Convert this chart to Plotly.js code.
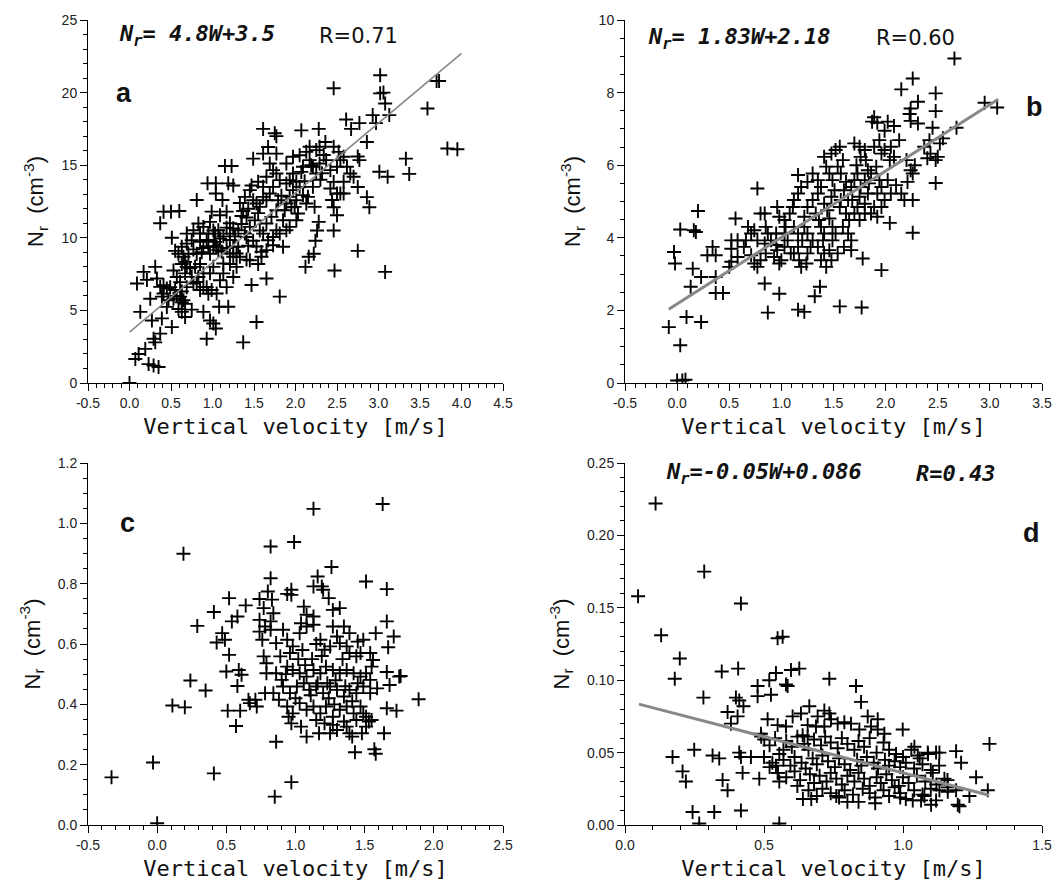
<!DOCTYPE html>
<html>
<head>
<meta charset="utf-8">
<script src="https://cdn.plot.ly/plotly-3.0.1.min.js"></script>
<style>html,body{margin:0;padding:0;background:#fff;}#chart{width:1062px;height:881px;}</style>
</head>
<body>
<div id="chart"></div>
<script>
// ---------- Panel a ----------
const aW = [3.02,2.46,3.02,3.06,3.08,3.70,3.73,3.59,3.13,2.93,
2.97,2.77,2.61,2.67,2.86,3.83,3.95,3.33,3.37,3.01,
3.11,2.75,2.77,2.70,2.75,2.86,2.89,2.75,2.47,3.08,
2.12,2.16,2.22,2.24,2.26,2.28,2.46,2.50,2.44,2.46,
2.54,2.42,2.46,2.30,2.32,2.36,2.28,2.07,1.61,1.75,
1.77,1.67,1.77,1.49,1.61,1.15,1.23,1.19,1.25,0.94,
1.04,1.04,1.12,0.81,0.41,0.50,0.60,0.37,0.51,0.31,
0.33,0.21,0.17,0.09,0.25,0.39,0.13,0.27,0.39,0.37,
0.29,0.31,0.19,0.11,0.07,0.23,0.29,0.35,0.51,0.59,
0.63,0.67,0.75,0.89,0.97,1.01,1.04,0.93,1.08,1.19,
1.37,1.53,1.47,1.65,1.81,0.55,0.59,0.65,0.63,0.69,
0.71,0.53,0.57,0.61,0.67,0.49,0.55,0.63,0.69,0.61,
0.65,0.67,0.63,0.77,0.81,0.85,0.89,0.83,0.77,0.85,
0.93,0.95,0.99,0.97,1.01,0.85,0.97,1.01,0.93,1.05,
1.11,0.89,0.95,1.01,1.07,0.97,1.09,1.17,1.21,1.25,
1.27,1.21,1.17,1.25,1.21,1.29,1.13,1.17,1.25,1.33,
1.37,1.41,1.35,1.45,1.41,1.49,1.43,1.53,1.41,1.45,
1.59,1.55,1.39,1.45,1.49,1.53,1.57,1.61,1.65,1.69,
1.61,1.55,1.65,1.73,1.69,1.77,1.81,1.73,1.79,1.77,
1.71,1.65,1.61,1.67,1.73,1.77,1.81,1.85,1.87,1.89,
1.93,1.97,1.89,1.93,2.01,2.05,2.09,2.01,1.99,2.03,
2.01,1.93,1.89,1.85,1.73,1.65,1.59,1.89,1.97,2.05,
2.13,2.17,2.21,2.25,2.29,2.17,2.09,2.25,2.29,2.37,
2.42,2.50,2.54,2.58,2.52,2.46,2.62,2.66,2.58,2.50,
2.58,2.21,2.15,2.23,2.13,2.07,1.97,0.69,0.77,0.83,
0.89,0.95,1.03,1.07,1.09,1.03,0.85,0.75,0.69,0.63,
0.67,0.79,0.75,0.81,0.89,1.05,1.09,1.13,1.21,1.29,
1.33,1.31,1.25,1.21,1.31,1.39,0.45,0.41,0.47,0.45,
0.53,0.41,0.37,0.00,1.13,1.17,0.99,1.43,1.51,1.57,
1.35,1.47,1.83,1.95,2.11,2.19,2.34,1.55,0.87,0.73,0.57];
const aN = [21.2,20.3,19.95,20.0,19.25,20.8,20.8,18.9,18.45,18.45,
17.9,17.9,18.15,17.5,16.6,16.15,16.1,15.45,14.4,14.55,
14.2,15.6,15.35,14.2,13.5,12.8,12.1,9.1,7.75,7.65,
8.0,8.7,8.9,9.8,10.5,11.1,10.5,11.55,12.6,12.1,
13.05,13.4,13.85,14.0,14.45,16.6,17.5,17.4,17.5,17.2,
17.0,16.25,15.8,15.45,15.8,14.95,14.95,13.75,13.6,13.75,
13.75,13.05,12.6,12.6,11.8,11.8,11.85,11.0,10.0,8.0,
7.2,7.1,7.65,6.85,5.8,5.95,4.9,4.3,4.45,3.4,
3.05,2.8,2.35,2.0,1.65,1.3,1.2,1.1,3.85,5.1,
4.9,4.55,5.05,4.9,4.3,4.1,3.75,3.05,5.25,5.25,
2.8,4.2,6.75,7.2,5.95,9.1,8.9,8.7,8.2,8.0,
8.9,7.75,7.3,6.95,7.55,6.6,6.4,6.3,6.6,5.95,
5.7,5.45,5.55,9.2,8.9,8.2,7.55,7.3,6.85,6.4,
6.6,6.15,6.4,7.55,8.0,10.3,11.1,10.5,9.85,9.4,
9.05,9.3,9.4,9.4,9.15,8.9,11.55,11.8,11.0,10.65,
10.1,9.85,9.3,8.7,8.2,8.0,7.55,6.6,7.3,12.4,
11.85,11.4,10.95,10.75,10.05,9.8,9.45,9.4,8.5,8.45,
8.7,8.2,12.82,13.28,12.59,12.36,12.13,12.82,12.59,13.05,
13.51,13.86,14.2,14.66,15.12,14.43,13.97,13.51,12.59,11.9,
11.44,10.98,10.29,9.83,10.06,10.52,10.29,11.21,11.9,12.36,
12.82,13.28,13.74,13.97,13.86,13.51,12.94,12.59,12.13,11.67,
11.21,10.75,10.52,9.38,9.49,9.15,9.03,15.12,15.58,15.69,
15.92,15.35,14.89,16.04,16.27,16.27,14.89,14.43,15.12,15.35,
14.66,14.89,15.35,15.58,15.92,16.27,14.89,14.43,13.86,13.05,
13.05,13.51,12.82,12.13,12.36,14.54,14.43,10.29,10.52,10.98,
10.75,10.29,10.29,10.52,9.95,9.72,9.72,9.83,9.6,9.38,
8.34,8.0,7.31,6.96,6.62,6.16,7.08,8.23,8.92,8.92,
8.69,9.38,9.38,10.29,10.52,10.29,6.5,6.16,5.7,5.24,
5.81,6.73,6.62,0.0,10.1,10.7,11.8,12.0,11.2,10.5,
11.5,13.6,12.9,12.1,13.9,15.0,15.7,11.7,9.0,7.9,6.0];
const aFit = {slope: 4.8, intercept: 3.5, wStart: 0.0, wEnd: 4.0};

// ---------- Panel b ----------
const bW = [2.66,2.26,2.15,2.48,2.48,2.31,2.24,2.95,3.07,2.68,
2.45,2.42,2.31,2.24,2.23,1.89,1.92,2.02,2.08,1.99,
1.87,2.13,2.05,1.99,1.94,1.89,1.96,2.04,2.08,2.37,
2.43,2.40,2.52,2.50,2.48,2.55,2.48,2.26,2.26,2.26,
2.18,2.15,2.21,2.20,2.28,2.24,2.04,1.96,1.99,2.05,
2.10,2.02,1.96,1.92,1.89,1.86,1.92,1.96,1.78,1.56,
1.77,1.22,1.16,0.87,0.98,1.32,1.37,-0.08,0.03,0.00,
0.05,0.08,0.09,0.23,-0.03,-0.02,0.03,0.16,0.18,0.20,
0.15,0.13,0.23,0.29,0.34,0.37,0.37,0.37,0.44,0.50,
0.52,0.52,0.56,0.64,0.66,0.74,0.77,0.71,0.74,0.77,
0.80,0.84,0.85,0.77,0.84,0.87,0.80,0.84,0.85,0.90,
0.95,0.96,0.93,1.00,0.98,0.96,0.98,0.95,1.03,1.03,
1.06,1.03,1.09,1.04,1.08,1.11,1.12,1.16,1.19,1.16,
1.12,1.16,1.20,1.16,1.12,1.17,1.19,1.24,1.25,1.28,
1.30,1.25,1.22,1.22,1.25,1.30,1.35,1.38,1.35,1.30,
1.25,1.33,1.36,1.38,1.41,1.40,1.35,1.41,1.38,1.43,
1.48,1.46,1.49,1.52,1.49,1.46,1.44,1.41,1.48,1.51,
1.49,1.46,1.43,1.41,1.48,1.52,1.56,1.59,1.54,1.57,
1.62,1.60,1.57,1.56,1.62,1.65,1.59,1.64,1.67,1.60,
1.54,1.67,1.67,1.70,1.73,1.72,1.76,1.80,1.75,1.70,
1.81,1.83,1.80,1.76,1.75,1.80,1.83,1.84,1.73,1.70,
1.75,1.80,1.68,1.64,1.91,1.86,1.94,0.71,0.68,0.58,
0.52,0.58];
const bN = [8.94,8.39,8.09,7.98,7.49,7.75,7.56,7.72,7.59,7.03,
7.03,6.69,7.15,7.22,7.41,7.32,7.17,7.20,7.08,6.95,
7.20,6.69,6.51,6.42,6.69,6.51,6.32,6.14,6.23,6.51,
6.32,6.19,6.60,6.23,6.14,6.74,5.51,4.14,5.77,5.04,
5.04,5.22,5.54,6.14,6.00,5.86,4.41,4.85,5.04,5.22,
5.45,5.59,5.40,5.22,4.85,4.67,4.58,3.11,3.43,2.11,
2.08,1.96,2.02,1.94,2.46,2.39,2.65,1.54,1.04,0.07,
0.07,0.09,1.82,1.68,3.61,3.29,4.23,4.21,4.16,4.74,
3.15,2.65,2.92,3.52,3.75,3.52,2.92,2.48,2.48,3.20,
3.93,3.70,4.53,3.75,3.93,4.21,5.36,3.52,3.29,3.20,
4.67,4.67,4.30,3.93,3.84,4.12,3.38,2.74,3.57,3.93,
3.80,3.66,3.47,3.38,3.29,4.85,4.58,4.12,4.49,4.12,
3.93,3.75,3.57,4.30,4.67,4.85,5.04,5.22,5.40,5.73,
4.30,4.12,3.93,3.75,3.57,3.38,3.20,3.29,3.57,3.75,
3.93,4.12,4.30,4.58,4.85,5.04,5.22,5.40,5.59,5.77,
5.54,4.67,4.49,4.30,4.12,3.93,3.75,3.57,3.38,3.20,
3.38,3.66,3.93,4.12,4.30,4.53,4.76,4.94,5.13,5.31,
5.59,5.77,5.96,6.23,6.32,6.42,6.51,6.14,5.96,5.77,
5.54,5.31,5.04,4.85,4.67,4.49,4.30,4.12,3.93,3.75,
3.57,3.66,5.40,5.59,5.77,6.00,6.23,6.42,6.51,6.60,
6.14,5.86,5.59,5.40,5.13,4.94,5.22,5.50,4.85,4.67,
4.49,4.67,5.04,5.04,5.96,5.77,5.59,4.12,4.30,3.93,
3.34,3.47];
const bFit = {slope: 1.83, intercept: 2.18, wStart: -0.08, wEnd: 3.08};

// ---------- Panel c ----------
const cW = [-0.33,-0.03,0.00,0.19,0.29,0.11,0.20,0.24,0.35,0.41,
0.41,0.52,0.64,0.58,0.54,0.47,0.43,0.49,0.52,0.50,
0.59,0.61,0.58,0.51,0.60,0.57,0.66,0.71,0.72,0.67,
0.74,0.77,0.74,0.78,0.74,0.76,0.82,0.82,0.80,0.83,
0.84,0.82,0.85,0.97,0.99,1.13,1.63,1.26,1.16,1.19,
1.20,1.24,1.13,0.97,0.97,0.94,1.51,1.66,1.66,1.67,
1.71,1.58,1.66,1.68,1.75,1.76,1.89,1.73,1.66,1.64,
1.57,1.58,1.43,0.86,1.08,1.04,0.97,0.95,1.17,1.25,
1.30,1.37,1.39,1.41,1.48,1.51,1.53,0.91,0.94,0.96,
0.98,1.03,1.08,1.13,1.18,1.21,1.25,1.27,1.30,1.32,
1.37,1.39,1.44,1.47,1.49,1.54,1.56,1.55,0.94,0.98,
1.03,1.08,1.13,1.18,1.22,1.27,1.32,1.37,1.42,1.47,
1.51,1.54,0.91,0.96,1.01,1.06,1.10,1.15,1.20,1.25,
1.30,1.35,1.39,1.44,1.49,1.54,1.59,0.94,0.98,1.03,
1.08,1.13,1.18,1.22,1.27,1.32,1.37,1.42,1.47,1.51,
1.49,1.15,1.21,1.27,1.35,1.44,1.55,0.86,0.89,0.86,
0.90,0.84,0.88,0.79,0.79,0.78,0.77,0.82,1.27,1.32,
1.35,1.39,1.45,1.06,1.08,1.13,1.04,1.12,1.16,1.05,
1.24,1.00,1.29,1.34,1.41,1.11,0.93,1.19,1.07,1.23,
1.45,1.02,1.15,1.28,1.36];
const cN = [0.158,0.207,0.006,0.899,0.660,0.396,0.390,0.479,0.446,0.171,
0.706,0.752,0.728,0.691,0.675,0.636,0.605,0.614,0.564,0.509,
0.514,0.498,0.461,0.379,0.379,0.328,0.415,0.415,0.393,0.404,
0.749,0.719,0.680,0.658,0.641,0.614,0.923,0.818,0.774,0.747,
0.702,0.675,0.094,0.142,0.938,1.048,1.064,0.855,0.824,0.791,
0.780,0.752,0.791,0.780,0.763,0.766,0.807,0.782,0.675,0.589,
0.625,0.636,0.507,0.464,0.492,0.494,0.417,0.379,0.387,0.304,
0.251,0.236,0.241,0.276,0.293,0.326,0.337,0.359,0.304,0.304,
0.315,0.326,0.304,0.293,0.304,0.326,0.343,0.647,0.614,0.570,
0.592,0.636,0.658,0.664,0.614,0.581,0.592,0.658,0.625,0.603,
0.592,0.570,0.559,0.570,0.614,0.570,0.547,0.525,0.525,0.514,
0.503,0.492,0.514,0.503,0.525,0.514,0.503,0.514,0.503,0.492,
0.503,0.481,0.459,0.437,0.459,0.470,0.448,0.459,0.437,0.459,
0.448,0.426,0.448,0.437,0.459,0.437,0.453,0.393,0.370,0.404,
0.382,0.393,0.370,0.393,0.359,0.382,0.393,0.370,0.393,0.359,
0.370,0.348,0.337,0.332,0.343,0.348,0.348,0.603,0.559,0.503,
0.481,0.437,0.415,0.536,0.503,0.437,0.559,0.647,0.713,0.719,
0.658,0.636,0.608,0.724,0.697,0.691,0.669,0.55,0.47,0.58,
0.42,0.42,0.48,0.55,0.41,0.43,0.50,0.56,0.53,0.47,
0.47,0.55,0.60,0.40,0.46];

// ---------- Panel d ----------
const dW = [0.047,0.11,0.13,0.197,0.179,0.285,0.282,0.417,0.549,0.567,
0.348,0.407,0.399,0.411,0.426,0.369,0.405,0.381,0.477,0.525,
0.477,0.543,0.579,0.585,0.597,0.627,0.519,0.735,0.831,0.849,
0.171,0.249,0.207,0.219,0.243,0.267,0.321,0.417,0.555,0.315,
0.339,0.351,0.369,0.423,0.411,0.417,0.453,0.483,0.549,0.555,
0.543,0.489,0.501,0.513,0.549,0.579,0.603,0.633,0.663,0.693,
0.687,0.657,0.639,0.657,0.717,0.735,0.741,0.717,0.765,0.789,
0.813,0.843,0.873,0.885,0.909,0.909,0.933,0.999,1.311,1.305,
1.263,1.239,1.191,1.209,1.197,1.203,1.191,1.161,1.131,1.119,
1.101,1.107,1.149,1.161,1.119,1.131,1.089,1.053,1.041,1.065,
1.035,1.077,
0.49,0.52,0.54,0.57,0.58,0.60,0.62,0.645,0.66,0.68,
0.705,0.72,0.74,0.765,0.78,0.80,0.825,0.84,0.86,0.88,
0.905,0.93,0.95,0.975,1.00,1.03,1.06,1.09,
0.50,0.53,0.555,0.57,0.595,0.61,0.635,0.65,0.675,0.69,
0.71,0.73,0.755,0.77,0.79,0.81,0.835,0.85,0.87,0.895,
0.91,0.935,0.95,0.97,0.99,1.01,1.04,1.07,1.10,1.13,
0.52,0.55,0.58,0.61,0.63,0.665,0.68,0.70,0.725,0.74,
0.76,0.78,0.80,0.825,0.84,0.86,0.88,0.905,0.92,0.94,
0.96,0.985,1.00,1.02,1.05,1.08,1.12,1.16,
0.62,0.66,0.69,0.71,0.74,0.77,0.79,0.82,0.84,0.855,
0.88,0.90,0.93,0.95,0.97,0.99,1.01,1.04,1.07,1.10,
0.64,0.67,0.76,0.80,0.90,0.99];
const dN = [0.158,0.222,0.131,0.115,0.101,0.175,0.088,0.153,0.129,0.130,
0.106,0.108,0.088,0.086,0.082,0.078,0.075,0.070,0.096,0.090,
0.089,0.105,0.097,0.096,0.107,0.108,0.100,0.101,0.096,0.085,
0.047,0.052,0.037,0.030,0.009,0.001,0.009,0.010,0.001,0.048,
0.046,0.031,0.024,0.036,0.050,0.047,0.047,0.032,0.036,0.030,
0.041,0.063,0.059,0.073,0.069,0.068,0.075,0.077,0.082,0.075,
0.068,0.069,0.062,0.061,0.079,0.077,0.073,0.068,0.070,0.071,
0.070,0.066,0.075,0.068,0.073,0.066,0.063,0.066,0.056,0.024,
0.033,0.020,0.051,0.043,0.014,0.013,0.024,0.023,0.024,0.017,
0.014,0.036,0.032,0.026,0.050,0.050,0.050,0.048,0.054,0.017,
0.017,0.020,
0.061,0.055,0.060,0.052,0.058,0.054,0.061,0.056,0.052,0.059,
0.055,0.061,0.057,0.053,0.060,0.056,0.052,0.058,0.054,0.060,
0.050,0.057,0.052,0.049,0.047,0.052,0.046,0.049,
0.047,0.043,0.049,0.045,0.041,0.047,0.043,0.039,0.046,0.042,
0.048,0.044,0.040,0.046,0.042,0.038,0.045,0.041,0.047,0.043,
0.039,0.045,0.041,0.044,0.040,0.043,0.039,0.042,0.038,0.041,
0.040,0.036,0.033,0.037,0.031,0.035,0.029,0.034,0.030,0.036,
0.032,0.028,0.034,0.030,0.036,0.032,0.027,0.033,0.029,0.035,
0.031,0.027,0.033,0.029,0.034,0.030,0.028,0.031,
0.027,0.024,0.020,0.025,0.022,0.019,0.024,0.021,0.016,0.025,
0.022,0.019,0.024,0.020,0.026,0.022,0.018,0.024,0.021,0.025,
0.018,0.018,0.020,0.016,0.015,0.019];
const dFit = {slope: -0.05, intercept: 0.086, wStart: 0.05, wEnd: 1.31};

// ---------- Tick labels (hyphen-minus as in the original) ----------
const xTicksA = [-0.5,0,0.5,1,1.5,2,2.5,3,3.5,4,4.5];
const xLabelsA = ['-0.5','0.0','0.5','1.0','1.5','2.0','2.5','3.0','3.5','4.0','4.5'];
const xTicksB = [-0.5,0,0.5,1,1.5,2,2.5,3,3.5];
const xLabelsB = ['-0.5','0.0','0.5','1.0','1.5','2.0','2.5','3.0','3.5'];
const xTicksC = [-0.5,0,0.5,1,1.5,2,2.5];
const xLabelsC = ['-0.5','0.0','0.5','1.0','1.5','2.0','2.5'];

// ---------- Text ----------
const xTitle = 'Vertical velocity [m/s]';
const yTitle = 'N<sub>r</sub>  (cm<sup>-3</sup>)';
const eqTexts = ['N<sub>r</sub>= 4.8W+3.5', 'N<sub>r</sub>= 1.83W+2.18', null, 'N<sub>r</sub>=-0.05W+0.086'];
const rTexts = ['R=0.71', 'R=0.60', null, '<b><i>R=0.43</i></b>'];
const panelLabels = ['a', 'b', 'c', 'd'];

// ---------- Build ----------
const markerStyle = {symbol: 'cross-thin', size: 10, color: '#000', line: {color: '#000', width: 1.9}};
function pts(x, y, xa, ya) {
  return {type: 'scatter', mode: 'markers', x: x, y: y, xaxis: xa, yaxis: ya,
          marker: markerStyle, hoverinfo: 'x+y', showlegend: false};
}
function fit(f, xa, ya, w) {
  const xs = [f.wStart, f.wEnd];
  return {type: 'scatter', mode: 'lines', x: xs, y: xs.map(v => f.slope * v + f.intercept),
          xaxis: xa, yaxis: ya, line: {color: '#888', width: w}, showlegend: false, hoverinfo: 'skip'};
}
const data = [
  pts(aW, aN, 'x', 'y'), fit(aFit, 'x', 'y', 1.6),
  pts(bW, bN, 'x2', 'y2'), fit(bFit, 'x2', 'y2', 3),
  pts(cW, cN, 'x3', 'y3'),
  pts(dW, dN, 'x4', 'y4'), fit(dFit, 'x4', 'y4', 3)
];

const tickFont = {family: 'Liberation Sans, Arial, sans-serif', size: 14, color: '#222'};
function xax(domain, range, dtick, minor, fmt, anchor, tv, tt) {
  const ax = {domain: domain, range: range, dtick: dtick, tick0: 0, tickformat: fmt, anchor: anchor,
    ticks: 'outside', ticklen: 7, tickwidth: 1, tickcolor: '#000',
    minor: {tickmode: 'linear', dtick: minor, tick0: 0, ticks: 'outside', ticklen: 4, tickwidth: 1, tickcolor: '#000', showgrid: false},
    showline: true, linecolor: '#000', linewidth: 1, showgrid: false, zeroline: false,
    tickfont: tickFont, automargin: false,
    title: {text: xTitle, font: {family: 'DejaVu Sans Mono, monospace', size: 22, color: '#111'}, standoff: 8}};
  if (tv) { ax.tickmode = 'array'; ax.tickvals = tv; ax.ticktext = tt; }
  return ax;
}
function yax(domain, range, dtick, minor, fmt, anchor) {
  return {domain: domain, range: range, dtick: dtick, tick0: 0, tickformat: fmt, anchor: anchor,
    ticks: 'outside', ticklen: 7, tickwidth: 1, tickcolor: '#000',
    minor: {dtick: minor, tick0: 0, ticks: 'outside', ticklen: 4, tickwidth: 1, tickcolor: '#000', showgrid: false},
    showline: true, linecolor: '#000', linewidth: 1, showgrid: false, zeroline: false,
    tickfont: tickFont, automargin: false,
    title: {text: yTitle, font: {family: 'Liberation Sans, Arial, sans-serif', size: 22, color: '#111'}, standoff: 11}};
}
const xL = [88/1062, 503/1062], xR = [625/1062, 1042/1062];
const yT = [1 - 383/881, 1 - 20/881], yB = [1 - 825/881, 1 - 463/881];

const eqFont = {family: 'DejaVu Sans Mono, monospace', size: 22, color: '#111'};
const rFont = {family: 'DejaVu Sans, Verdana, sans-serif', size: 21, color: '#111'};
const rFontD = {family: 'DejaVu Sans Mono, monospace', size: 22, color: '#111'};
const lblFont = {family: 'Liberation Sans, Arial, sans-serif', size: 27, color: '#111'};
const annPos = [
  {ax: 'x', ay: 'y', eq: [0.070, 0.956], r: [0.552, 0.956], l: [0.087, 0.80]},
  {ax: 'x2', ay: 'y2', eq: [0.050, 0.950], r: [0.597, 0.950], l: [0.983, 0.76]},
  {ax: 'x3', ay: 'y3', eq: null, r: null, l: [0.096, 0.834]},
  {ax: 'x4', ay: 'y4', eq: [0.094, 0.970], r: [0.693, 0.970], l: [0.975, 0.807]}
];
const annotations = [];
annPos.forEach((p, i) => {
  const xr = p.ax + ' domain', yr = p.ay + ' domain';
  if (p.eq) {
    annotations.push({xref: xr, yref: yr, x: p.eq[0], y: p.eq[1], xanchor: 'left', yanchor: 'middle',
      text: '<b><i>' + eqTexts[i] + '</i></b>', showarrow: false, font: eqFont});
    annotations.push({xref: xr, yref: yr, x: p.r[0], y: p.r[1], xanchor: 'left', yanchor: 'middle',
      text: rTexts[i], showarrow: false, font: i === 3 ? rFontD : rFont});
  }
  annotations.push({xref: xr, yref: yr, x: p.l[0], y: p.l[1], xanchor: 'center', yanchor: 'middle',
    text: '<b>' + panelLabels[i] + '</b>', showarrow: false, font: lblFont});
});

const layout = {
  width: 1062, height: 881,
  margin: {l: 0, r: 0, t: 0, b: 0},
  paper_bgcolor: '#fff', plot_bgcolor: '#fff',
  showlegend: false,
  xaxis: xax(xL, [-0.5, 4.5], 0.5, 0.1, '.1f', 'y', xTicksA, xLabelsA),
  yaxis: yax(yT, [0, 25], 5, 1, 'd', 'x'),
  xaxis2: xax(xR, [-0.5, 3.5], 0.5, 0.1, '.1f', 'y2', xTicksB, xLabelsB),
  yaxis2: yax(yT, [0, 10], 2, 0.5, 'd', 'x2'),
  xaxis3: xax(xL, [-0.5, 2.5], 0.5, 0.1, '.1f', 'y3', xTicksC, xLabelsC),
  yaxis3: yax(yB, [0, 1.2], 0.2, 0.05, '.1f', 'x3'),
  xaxis4: xax(xR, [0, 1.5], 0.5, 0.1, '.1f', 'y4'),
  yaxis4: yax(yB, [0, 0.25], 0.05, 0.01, '.2f', 'x4'),
  annotations: annotations
};
Plotly.newPlot('chart', data, layout, {displayModeBar: false, staticPlot: true});
</script>
</body>
</html>
